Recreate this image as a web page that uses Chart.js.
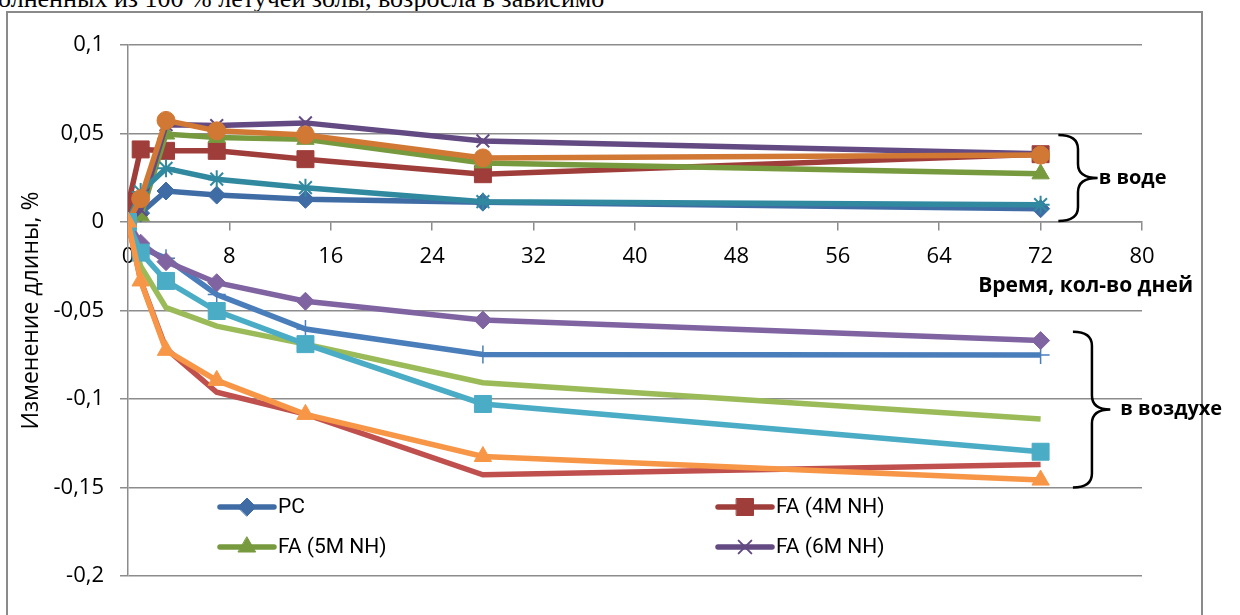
<!DOCTYPE html>
<html>
<head>
<meta charset="utf-8">
<script src="https://cdn.jsdelivr.net/npm/chart.js"></script>
<style>
	html, body { margin: 0; padding: 0; background: #fff; overflow: hidden; width: 1240px; height: 615px; }
	#texto { position: absolute; left: -2px; top: -14px; font: 26px/26px "Liberation Serif", serif; white-space: nowrap; color: #000; }
	#moldura { position: absolute; left: 6px; top: 11px; width: 1193px; height: 700px; border: 2px solid #8a8a8a; }
	canvas { position: absolute; left: 0; top: 0; }
</style>
</head>
<body>
<div id="texto">олненных из 100 % летучей золы, возросла в зависимо</div>
<div id="moldura"></div>
<canvas id="graficoDeformacao" width="1240" height="615"></canvas>
<script>
// dias de medição
const dias = [0, 1, 3, 7, 14, 28, 72];
const xTicks = [0, 8, 16, 24, 32, 40, 48, 56, 64, 72, 80];
const yTicks = [-0.2, -0.15, -0.1, -0.05, 0, 0.05, 0.1];

// в воде
const pcVoda = [0, 0.005, 0.0175, 0.0152, 0.0128, 0.0112, 0.0075];
const fa4Voda = [0.0095, 0.041, 0.0402, 0.0402, 0.0355, 0.027, 0.0383];
const fa5Voda = [0, 0.0035, 0.0497, 0.0478, 0.0467, 0.0334, 0.0272];
const fa6Voda = [0, 0.007, 0.055, 0.0545, 0.056, 0.0458, 0.0385];
const fa7Voda = [0, 0.017, 0.0303, 0.0242, 0.0194, 0.0115, 0.0098];
const fa8Voda = [0, 0.0132, 0.0574, 0.0515, 0.0492, 0.0362, 0.0378];

// в воздухе
const pcVozduh = [0, -0.0145, -0.0205, -0.041, -0.0605, -0.0748, -0.0752];
const fa4Vozduh = [0, -0.033, -0.0715, -0.0962, -0.1085, -0.1428, -0.137];
const fa5Vozduh = [0, -0.025, -0.0484, -0.0588, -0.069, -0.0908, -0.1113];
const fa6Vozduh = [0, -0.012, -0.0224, -0.0343, -0.0448, -0.0554, -0.067];
const fa7Vozduh = [0, -0.0173, -0.0333, -0.0503, -0.069, -0.1028, -0.1298];
const fa8Vozduh = [0, -0.0333, -0.0725, -0.0895, -0.1087, -0.1325, -0.1458];

function serie(label, valores, cor, estilo, raio, bordaPonto, ordem) {
	return {
		label: label,
		data: dias.map((d, i) => ({ x: d, y: valores[i] })),
		borderColor: cor,
		backgroundColor: cor,
		borderWidth: 5.5,
		pointStyle: estilo,
		pointRadius: raio,
		pointHoverRadius: raio,
		pointBorderWidth: bordaPonto,
		pointBackgroundColor: cor,
		pointBorderColor: cor,
		tension: 0,
		order: ordem,
	};
}

const series = [
	serie('PC', pcVoda, '#3F6CA5', 'rectRot', 9, 1, 12),
	serie('FA (4M NH)', fa4Voda, '#9F3D3A', 'rect', 12, 1, 11),
	serie('FA (5M NH)', fa5Voda, '#779A3F', 'triangle', 10, 1, 10),
	serie('FA (6M NH)', fa6Voda, '#634A82', 'crossRot', 9, 2, 9),
	serie('FA (7M NH)', fa7Voda, '#3189A0', 'star', 9, 2, 8),
	serie('FA (8M NH)', fa8Voda, '#D17835', 'circle', 9, 1, 7),
	serie('PC, воздух', pcVozduh, '#4A7EBB', 'cross', 9, 1.5, 6),
	serie('FA (4M NH), воздух', fa4Vozduh, '#C0504D', 'circle', 0, 0, 5),
	serie('FA (5M NH), воздух', fa5Vozduh, '#9BBB59', 'circle', 0, 0, 4),
	serie('FA (6M NH), воздух', fa6Vozduh, '#8064A2', 'rectRot', 9, 1, 3),
	serie('FA (7M NH), воздух', fa7Vozduh, '#4BACC6', 'rect', 12, 1, 2),
	serie('FA (8M NH), воздух', fa8Vozduh, '#F79646', 'triangle', 10, 1, 1),
];

function chave(ctx, x0, x1, xt, yT, yB) {
	const meio = (yT + yB) / 2;
	const r = 14;
	ctx.beginPath();
	ctx.moveTo(x0, yT);
	ctx.quadraticCurveTo(x1, yT, x1, yT + r);
	ctx.lineTo(x1, meio - r);
	ctx.quadraticCurveTo(x1, meio, xt, meio);
	ctx.quadraticCurveTo(x1, meio, x1, meio + r);
	ctx.lineTo(x1, yB - r);
	ctx.quadraticCurveTo(x1, yB, x0, yB);
	ctx.stroke();
	return meio;
}

// chaves, rótulos e título do eixo X
const anotacoes = {
	id: 'anotacoes',
	afterDraw(chart) {
		const { ctx, chartArea } = chart;
		const sx = chart.scales.x, sy = chart.scales.y;
		ctx.save();
		ctx.strokeStyle = '#000';
		ctx.lineWidth = 2.5;
		ctx.fillStyle = '#000';
		ctx.font = 'bold 20px "Open Sans"';
		ctx.textBaseline = 'middle';

		const m1 = chave(ctx, sx.getPixelForValue(73.4), sx.getPixelForValue(74.95), sx.getPixelForValue(76.5),
			sy.getPixelForValue(0.0492), sy.getPixelForValue(0.0005));
		ctx.fillText('в воде', sx.getPixelForValue(76.5) + 1, m1);

		const m2 = chave(ctx, sx.getPixelForValue(74.55), sx.getPixelForValue(76.05), sx.getPixelForValue(77.5),
			sy.getPixelForValue(-0.062), sy.getPixelForValue(-0.15));
		ctx.fillText('в воздухе', sx.getPixelForValue(77.5) + 10, m2);

		ctx.textAlign = 'right';
		ctx.font = 'bold 21px "Open Sans"';
		ctx.fillText('Время, кол-во дней', chartArea.right + 51, sy.getPixelForValue(0) + 64);
		ctx.restore();
	},
};

// legenda dentro da área do gráfico (apenas as 4 primeiras séries)
const legenda = {
	id: 'legenda',
	afterDraw(chart) {
		const { ctx, chartArea } = chart;
		const colX = [chartArea.left + 92, chartArea.left + 590];
		const linY = [chartArea.bottom - 69, chartArea.bottom - 29];
		chart.data.datasets.slice(0, 4).forEach((ds, i) => {
			const x = colX[i % 2];
			const y = linY[Math.floor(i / 2)];
			ctx.save();
			ctx.strokeStyle = ds.borderColor;
			ctx.fillStyle = ds.borderColor;
			ctx.lineWidth = 5.5;
			ctx.lineCap = 'round';
			ctx.beginPath();
			ctx.moveTo(x, y);
			ctx.lineTo(x + 54, y);
			ctx.stroke();
			ctx.lineWidth = ds.pointBorderWidth;
			Chart.helpers.drawPoint(ctx, {
				pointStyle: ds.pointStyle,
				radius: ds.pointRadius,
				borderWidth: ds.pointBorderWidth,
				rotation: 0,
			}, x + 27, y);
			ctx.fillStyle = '#000';
			ctx.font = '21px Roboto';
			ctx.textBaseline = 'middle';
			ctx.fillText(ds.label, x + 58, y + 1);
			ctx.restore();
		});
	},
};

new Chart(document.getElementById('graficoDeformacao'), {
	type: 'line',
	data: { datasets: series },
	options: {
		responsive: false,
		animation: false,
		devicePixelRatio: 1,
		layout: { padding: { left: 14, top: 45, right: 98, bottom: 39 } },
		plugins: {
			legend: { display: false },
			tooltip: { enabled: false },
		},
		scales: {
			x: {
				type: 'linear',
				min: 0,
				max: 80,
				position: { y: 0 },
				afterBuildTicks: (s) => { s.ticks = xTicks.map((v) => ({ value: v })); },
				afterFit: (s) => { s.height = 0; s.paddingLeft = 0; s.paddingRight = 0; },
				ticks: {
					color: '#000',
					font: { family: 'Open Sans', size: 22 },
					padding: 14,
					maxRotation: 0,
					autoSkip: false,
				},
				grid: { drawOnChartArea: false, color: '#8c8c8c', lineWidth: 1.5, tickLength: 8 },
				border: { color: '#8c8c8c', width: 1.5 },
			},
			y: {
				min: -0.2,
				max: 0.1,
				afterBuildTicks: (s) => { s.ticks = yTicks.map((v) => ({ value: v })); },
				afterFit: (s) => { s.width = 114; },
				ticks: {
					color: '#000',
					font: { family: 'Open Sans', size: 22 },
					padding: 16,
					callback: (v) => String(v).replace('.', ','),
				},
				grid: { color: '#8c8c8c', lineWidth: 1.5, tickLength: 8 },
				border: { color: '#8c8c8c', width: 1.5 },
				title: {
					display: true,
					text: 'Изменение длины, %',
					color: '#000',
					font: { family: 'Open Sans', size: 23 },
					padding: { top: 4, bottom: 0 },
				},
			},
		},
	},
	plugins: [anotacoes, legenda],
});
</script>
</body>
</html>
